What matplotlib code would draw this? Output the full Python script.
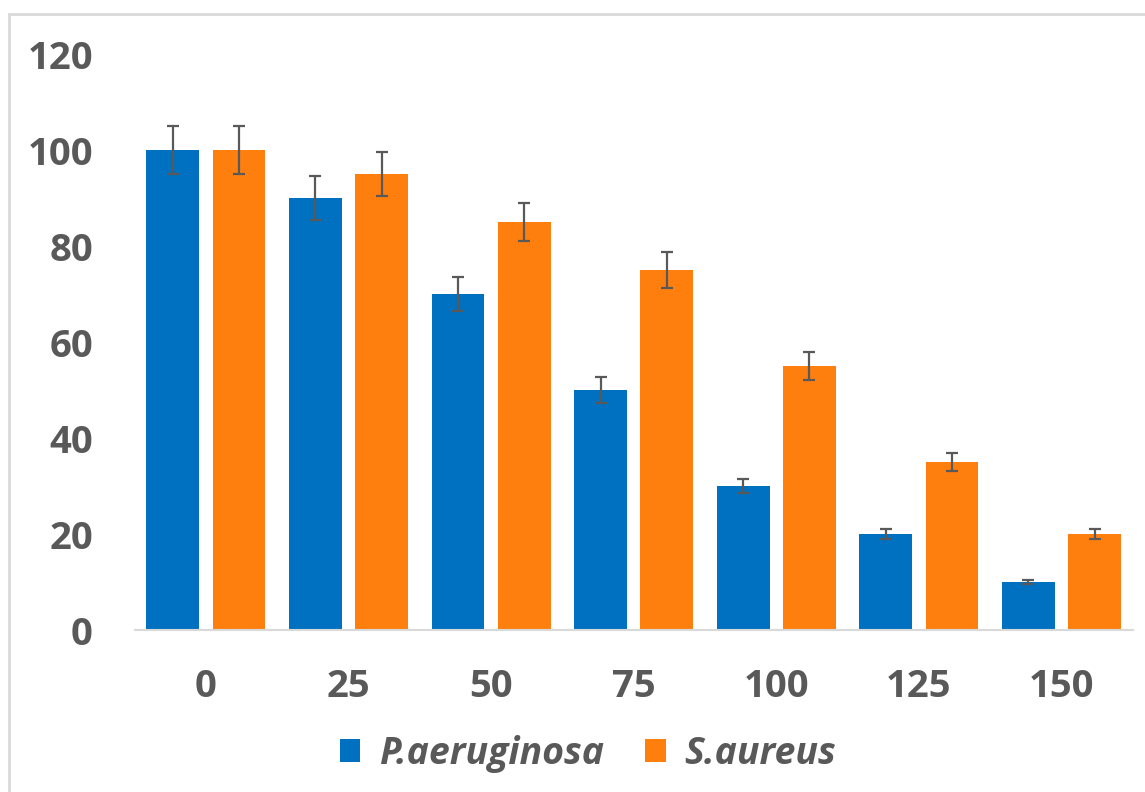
import numpy as np
import matplotlib.pyplot as plt
from matplotlib.patches import Rectangle

# concentrations and % values
categories = ['0', '25', '50', '75', '100', '125', '150']
p_aeruginosa = [100, 90, 70, 50, 30, 20, 10]
p_aeruginosa_err = [5, 4.5, 3.6, 2.7, 1.4, 1.0, 0.4]
s_aureus = [100, 95, 85, 75, 55, 35, 20]
s_aureus_err = [5, 4.6, 4.0, 3.8, 3.0, 1.8, 1.0]

blue = '#0070C0'
orange = '#FF7F0E'
grey = '#595959'

plt.rcParams['font.family'] = ['Open Sans', 'DejaVu Sans']

fig = plt.figure(figsize=(11.45, 7.92), dpi=100)
ax = fig.add_axes([0.1176, 0.2045, 0.8717, 0.7273])

# light frame round the whole chart
fig.patches.append(Rectangle((9 / 1145, -0.01), 1.0, 1 - 14 / 792 + 0.01,
                             transform=fig.transFigure, fill=False,
                             edgecolor='#D9D9D9', linewidth=2))

x = np.arange(len(categories))
w = 0.37
off = 0.232
err_kw = dict(ecolor=grey, elinewidth=1.6, capsize=4.3, capthick=1.6)

ax.bar(x - off, p_aeruginosa, w, color=blue, yerr=p_aeruginosa_err,
       error_kw=err_kw, label='P.aeruginosa')
ax.bar(x + off, s_aureus, w, color=orange, yerr=s_aureus_err,
       error_kw=err_kw, label='S.aureus')

ax.set_xlim(-0.5, len(categories) - 0.5)
ax.set_ylim(0, 120)
ax.set_yticks(range(0, 121, 20))
ax.set_xticks(x)
ax.set_xticklabels(categories)

for s in ['top', 'right', 'left']:
    ax.spines[s].set_visible(False)
ax.spines['bottom'].set_color('#D9D9D9')
ax.spines['bottom'].set_linewidth(1.5)

ax.tick_params(axis='both', length=0, labelsize=27.5, labelcolor=grey)
ax.tick_params(axis='y', pad=30)
ax.tick_params(axis='x', pad=27)
for lab in ax.get_xticklabels() + ax.get_yticklabels():
    lab.set_fontweight('bold')

leg = fig.legend(loc='center', bbox_to_anchor=(0.5135, 0.048), ncol=2,
                 frameon=False, handlelength=0.55, handleheight=0.55,
                 handletextpad=0.5, columnspacing=1.1,
                 prop=dict(size=27, weight='bold', style='italic'))
for t in leg.get_texts():
    t.set_color(grey)

fig.savefig('out.png', dpi=100)
